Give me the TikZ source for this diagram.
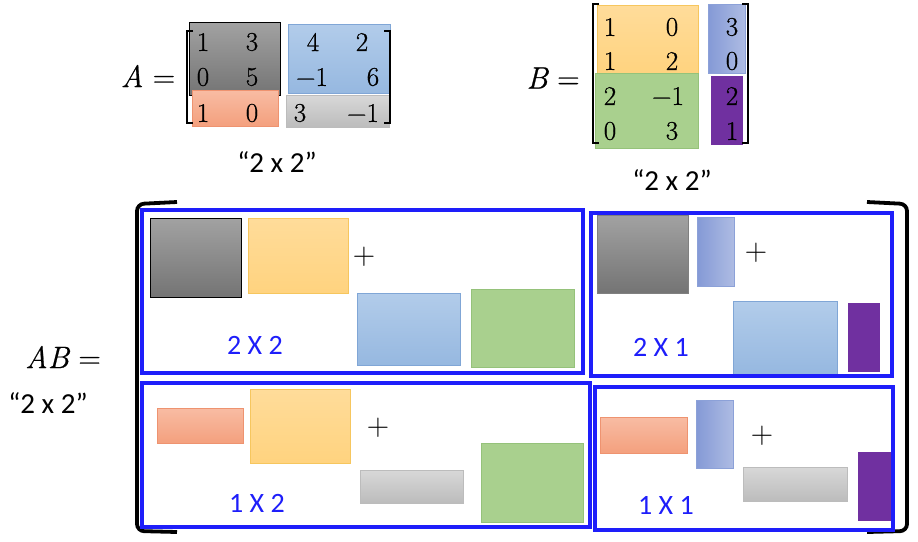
\documentclass[tikz,border=0pt]{standalone}
\usepackage{fontspec}
\newfontfamily\carl{Carlito}
\newfontfamily\numf{Latin Modern Roman}[FakeBold=0.7]
\definecolor{dgTop}{HTML}{A2A2A2}
\definecolor{dgBot}{HTML}{747474}
\definecolor{yelT}{HTML}{FFDC9A}
\definecolor{yelB}{HTML}{FFD37F}
\definecolor{yelD}{HTML}{F6C65E}
\definecolor{lblT}{HTML}{B2CCEA}
\definecolor{lblB}{HTML}{96B8E0}
\definecolor{lblD}{HTML}{80A6D6}
\definecolor{grn}{HTML}{A9D08E}
\definecolor{grnD}{HTML}{95C27A}
\definecolor{salT}{HTML}{F8BCA3}
\definecolor{salB}{HTML}{F4A07E}
\definecolor{salD}{HTML}{EE9370}
\definecolor{lgT}{HTML}{D8D8D8}
\definecolor{lgB}{HTML}{BCBCBC}
\definecolor{perL}{HTML}{8499D6}
\definecolor{perR}{HTML}{AEBCE3}
\definecolor{perD}{HTML}{8CA1D8}
\definecolor{purp}{HTML}{7030A0}
\definecolor{bblue}{HTML}{1E1EFA}
\begin{document}
\begin{tikzpicture}[x=1pt,y=1pt,
  num/.style={inner sep=0pt, font=\numf\fontsize{27}{30}\selectfont},
  eqn/.style={inner sep=0pt, font=\numf\fontsize{31}{34}\selectfont},
  lbl/.style={inner sep=0pt, font=\carl\fontsize{29}{34}\selectfont},
  dimlbl/.style={inner sep=0pt, text=bblue, font=\carl\fontsize{28}{32}\selectfont},
  plus/.style={inner sep=0pt, font=\fontsize{31}{36}\selectfont},
  bbox/.style={draw=bblue, line width=3.5pt},
  darkg/.style={top color=dgTop, bottom color=dgBot, draw=black, line width=0.8pt},
  darkgb/.style={top color=dgTop, bottom color=dgBot, draw=gray, line width=0.6pt},
  yel/.style={top color=yelT, bottom color=yelB, draw=yelD, line width=0.6pt},
  lbl2/.style={top color=lblT, bottom color=lblB, draw=lblD, line width=0.6pt},
  grnb/.style={fill=grn, draw=grnD, line width=0.6pt},
  sal/.style={top color=salT, bottom color=salB, draw=salD, line width=0.6pt},
  lgray/.style={top color=lgT, bottom color=lgB, draw=lgB, line width=0.4pt},
  peri/.style={left color=perL, right color=perR, draw=perD, line width=0.6pt},
  purb/.style={fill=purp},
  brk/.style={line width=2pt},
  bigbrk/.style={line width=3.8pt, rounded corners=7pt}
]
\useasboundingbox (0,0) rectangle (918,-541);

% ---------- Matrix A ----------
\node[eqn] (Aeq) at (148,-76) {{\itshape A}\ =};
\path[darkg] (189,-22) rectangle (280,-95);
\path[lbl2] (288,-24) rectangle (390,-93);
\path[sal] (192,-90) rectangle (278,-126);
\path[lgray] (286,-95) rectangle (389,-127);
\draw[brk] (193,-31) -- (187,-31) -- (187,-123) -- (193,-123);
\draw[brk] (384,-31) -- (390,-31) -- (390,-123) -- (384,-123);
\node[num] (a11) at (203,-42) {1};
\node[num] (a12) at (252,-42) {3};
\node[num] (a13) at (313,-42) {4};
\node[num] (a14) at (362,-42) {2};
\node[num] (a21) at (203,-77) {0};
\node[num] (a22) at (252,-77) {5};
\node[num] (a23) at (312,-77) {−1};
\node[num] (a24) at (373,-77) {6};
\node[num] (a31) at (203,-113) {1};
\node[num] (a32) at (252,-113) {0};
\node[num] (a33) at (300,-113) {3};
\node[num] (a34) at (363,-113) {−1};
\node[lbl] (Adim) at (277,-162) {“2 x 2”};

% ---------- Matrix B ----------
\node[eqn] (Beq) at (553,-78) {{\itshape B}\ =};
\path[yel] (597,-5) rectangle (698,-73);
\path[grnb] (595,-73) rectangle (698,-148);
\path[peri] (708,-4) rectangle (745,-73);
\path[purb] (711,-76) rectangle (743,-145);
\draw[brk] (599,-4) -- (593,-4) -- (593,-143) -- (599,-143);
\draw[brk] (742,-4) -- (748,-4) -- (748,-143) -- (742,-143);
\node[num] (b11) at (610,-27) {1};
\node[num] (b12) at (672,-27) {0};
\node[num] (b13) at (732,-27) {3};
\node[num] (b21) at (610,-61) {1};
\node[num] (b22) at (672,-61) {2};
\node[num] (b23) at (732,-61) {0};
\node[num] (b31) at (610,-96) {2};
\node[num] (b32) at (668,-96) {−1};
\node[num] (b33) at (732,-96) {2};
\node[num] (b41) at (610,-131) {0};
\node[num] (b42) at (672,-131) {3};
\node[num] (b43) at (732,-131) {1};
\node[lbl] (Bdim) at (672,-180) {“2 x 2”};

% ---------- AB ----------
\node[eqn] (ABeq) at (63,-357) {{\itshape AB}\ =};
\node[lbl] (ABdim) at (48,-403) {“2 x 2”};
\draw[bigbrk] (177,-202) -- (137,-204) -- (137,-531) -- (177,-532);
\draw[bigbrk] (867,-202) -- (907,-204) -- (907,-531) -- (867,-532);

% top-left block
\path[darkg] (150,-218) rectangle (241,-297);
\path[yel] (248,-218) rectangle (348,-293);
\node[plus] (p1) at (364,-257) {+};
\path[lbl2] (357,-293) rectangle (460,-365);
\path[grnb] (471,-289) rectangle (574,-367);
\node[dimlbl] (d1) at (255,-345) {2 X 2};
\draw[bbox] (142,-210) rectangle (583,-373);

% bottom-left block
\path[sal] (157,-408) rectangle (243,-443);
\path[yel] (250,-389) rectangle (350,-463);
\node[plus] (p2) at (378,-428) {+};
\path[lgray] (360,-470) rectangle (463,-503);
\path[grnb] (481,-443) rectangle (583,-522);
\node[dimlbl] (d2) at (257,-503) {1 X 2};
\draw[bbox] (142,-383) rectangle (590,-527);

% top-right block
\path[darkgb] (597,-215) rectangle (688,-293);
\path[peri] (697,-217) rectangle (734,-286);
\node[plus] (p3) at (756,-253) {+};
\path[lbl2] (733,-301) rectangle (837,-374);
\path[purb] (848,-303) rectangle (880,-372);
\node[dimlbl] (d3) at (661,-347) {2 X 1};
\draw[bbox] (591,-213) rectangle (892,-376);

% bottom-right block
\path[sal] (600,-417) rectangle (687,-453);
\path[peri] (696,-400) rectangle (733,-468);
\node[plus] (p4) at (762,-436) {+};
\path[lgray] (743,-467) rectangle (847,-501);
\path[purb] (858,-452) rectangle (892,-521);
\node[dimlbl] (d4) at (666,-505) {1 X 1};
\draw[bbox] (595,-387) rectangle (893,-530);
\end{tikzpicture}
\end{document}
